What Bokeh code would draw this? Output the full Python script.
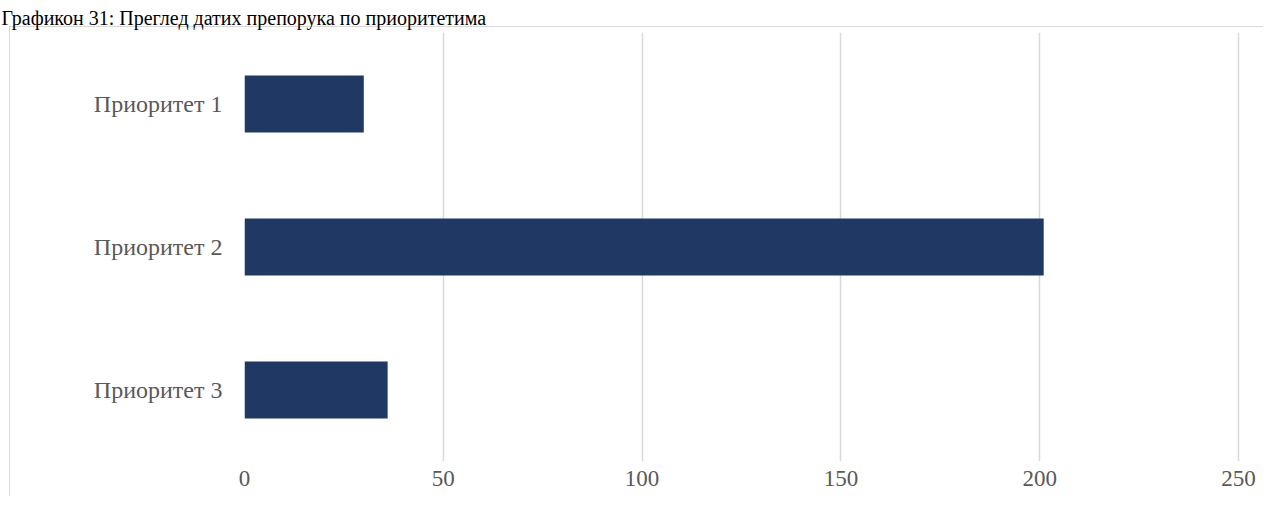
from bokeh.plotting import figure
from bokeh.models import FactorRange, Range1d, FixedTicker, ColumnDataSource
from bokeh.embed import file_html
from bokeh.resources import INLINE

title_text = "Графикон 31: Преглед датих препорука по приоритетима"
categories = ["Приоритет 1", "Приоритет 2", "Приоритет 3"]
values = [30, 201, 36]
x_ticks = [0, 50, 100, 150, 200, 250]

FONT = "Liberation Serif"
LABEL_COLOR = "#595959"
GRID_COLOR = "#D9D9D9"
BAR_COLOR = "#1F3864"

src = ColumnDataSource(data=dict(cat=categories, val=values))

shadow = ", ".join([
    "inset 0 26px 0 0 white",
    "inset 9px 0 0 0 white",
    "inset 0 27px 0 0 " + GRID_COLOR,
    "inset 10px 0 0 0 " + GRID_COLOR,
])

p = figure(
    width=1263, height=496,
    y_range=FactorRange(*reversed(categories)),
    x_range=Range1d(0, 251),
    output_backend="svg", toolbar_location=None,
    min_border_left=244, min_border_right=21,
    min_border_top=32, min_border_bottom=35,
    background_fill_color="white",
    border_fill_color="white", border_fill_alpha=0.0,
    styles={"box-shadow": shadow},
)

p.title.text = title_text
p.title.align = "left"
p.title.offset = -243
p.title.standoff = 8
p.title.text_font = FONT
p.title.text_font_size = "20px"
p.title.text_font_style = "normal"
p.title.text_color = "black"

p.hbar(y="cat", left=0, right="val", height=0.4, source=src,
       fill_color=BAR_COLOR, line_color=None)

for ax in (p.xaxis, p.yaxis):
    ax.axis_line_color = None
    ax.major_tick_line_color = None
    ax.minor_tick_line_color = None
    ax.major_tick_out = 0
    ax.major_tick_in = 0
    ax.minor_tick_out = 0
    ax.minor_tick_in = 0
    ax.major_label_text_font = FONT
    ax.major_label_text_color = LABEL_COLOR

p.xaxis.major_label_text_font_size = "23px"
p.yaxis.major_label_text_font_size = "24px"
p.xaxis.ticker = FixedTicker(ticks=x_ticks)
p.xaxis.major_label_standoff = 9
p.yaxis.major_label_standoff = 22

p.xgrid.ticker = FixedTicker(ticks=x_ticks)
p.xgrid.grid_line_color = GRID_COLOR
p.xgrid.grid_line_width = 1.5
p.ygrid.grid_line_color = None
p.outline_line_color = None

open("out.html", "w").write(file_html(p, INLINE))
